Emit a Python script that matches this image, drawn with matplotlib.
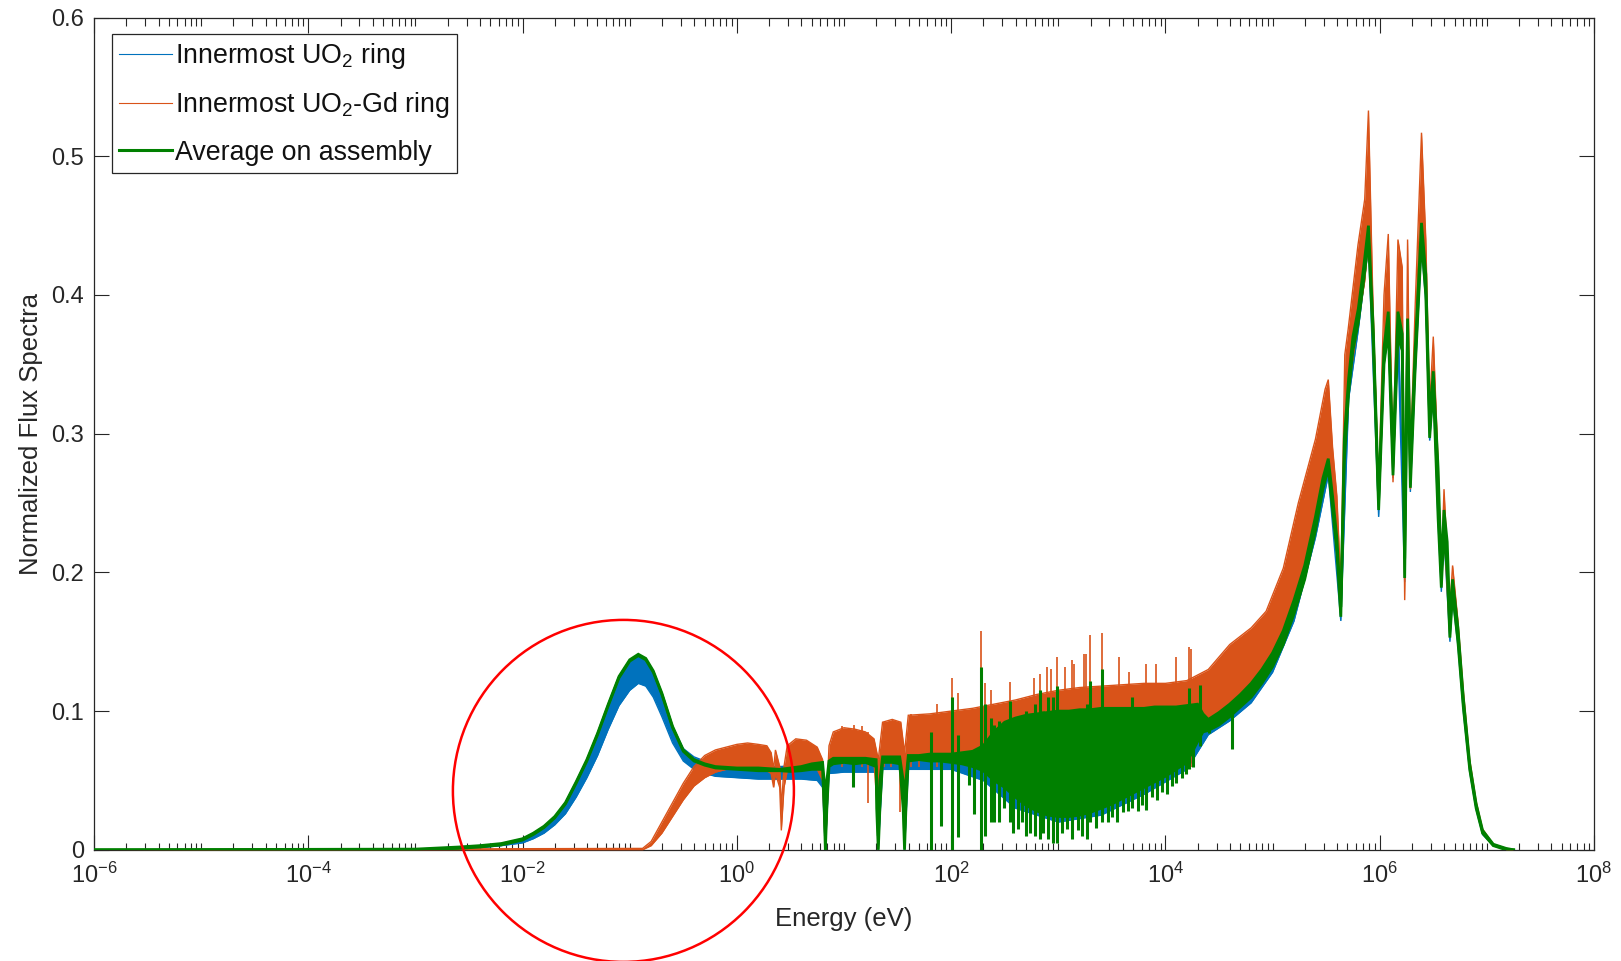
import numpy as np
import matplotlib
matplotlib.use("Agg")
import matplotlib.pyplot as plt
from matplotlib.ticker import FixedLocator, LogLocator, LogFormatterSciNotation, NullFormatter, FixedFormatter
from matplotlib.patches import Ellipse

plt.rcParams['font.family'] = ['Liberation Sans', 'DejaVu Sans']
plt.rcParams['mathtext.fontset'] = 'custom'
plt.rcParams['mathtext.rm'] = 'Liberation Sans'
plt.rcParams['mathtext.it'] = 'Liberation Sans:italic'
plt.rcParams['mathtext.bf'] = 'Liberation Sans:bold'

# ---------------- data (log10 of energy in eV, normalized flux) ----------------
labels = ["Innermost UO$_2$ ring", "Innermost UO$_2$-Gd ring", "Average on assembly"]
colors = ["#0072BD", "#D95319", "#008000"]

# Innermost UO2 ring (blue): band envelope
blue_logE = [-6.0, -3.0, -2.6, -2.4, -2.2, -2.0, -1.9, -1.8, -1.7, -1.6, -1.5, -1.4, -1.3, -1.2, -1.1,
             -1.0, -0.92, -0.85, -0.78, -0.7, -0.6, -0.5, -0.4, -0.3, -0.2, 0.0, 0.2, 0.4, 0.6, 0.75,
             0.8, 0.826, 0.86, 1.0, 1.3, 1.32, 1.36, 1.55, 1.565, 1.6, 2.0, 2.3, 2.6, 3.0, 3.4, 3.8,
             4.2, 4.4, 4.6, 4.8, 5.0, 5.2, 5.4, 5.52, 5.637, 5.71, 5.8, 5.895, 5.99, 6.04, 6.08, 6.124,
             6.17, 6.233, 6.26, 6.286, 6.33, 6.39, 6.43, 6.466, 6.5, 6.545, 6.575, 6.6, 6.655, 6.68,
             6.73, 6.78, 6.84, 6.9, 6.96, 7.06, 7.18, 7.25]
blue_lo = [0, 0, 0.0008, 0.0015, 0.003, 0.005, 0.008, 0.012, 0.018, 0.026, 0.038, 0.052, 0.068, 0.087, 0.104,
           0.115, 0.120, 0.118, 0.110, 0.096, 0.077, 0.064, 0.058, 0.055, 0.053, 0.052, 0.051, 0.051, 0.051, 0.050,
           0.045, 0.0, 0.055, 0.056, 0.056, 0.0, 0.058, 0.058, 0.0, 0.058, 0.058, 0.050, 0.030, 0.020, 0.025, 0.040,
           0.058, 0.083, 0.093, 0.106, 0.128, 0.165, 0.225, 0.270, 0.165, 0.325, 0.375, 0.435, 0.240, 0.350, 0.372, 0.268,
           0.365, 0.193, 0.362, 0.258, 0.340, 0.435, 0.395, 0.295, 0.330, 0.236, 0.186, 0.226, 0.150, 0.182,
           0.147, 0.100, 0.056, 0.029, 0.011, 0.003, 0.0, 0.0]
blue_hi = [0, 0.0005, 0.002, 0.003, 0.0045, 0.008, 0.012, 0.017, 0.024, 0.034, 0.049, 0.065, 0.084, 0.105, 0.125,
           0.137, 0.140, 0.137, 0.128, 0.113, 0.089, 0.073, 0.067, 0.064, 0.062, 0.061, 0.060, 0.060, 0.061, 0.061,
           0.058, 0.010, 0.062, 0.065, 0.065, 0.010, 0.066, 0.066, 0.010, 0.067, 0.068, 0.075, 0.095, 0.100, 0.100, 0.100,
           0.100, 0.094, 0.105, 0.120, 0.142, 0.180, 0.240, 0.290, 0.175, 0.345, 0.395, 0.465, 0.250, 0.362, 0.388, 0.285,
           0.388, 0.210, 0.383, 0.275, 0.360, 0.455, 0.415, 0.310, 0.345, 0.275, 0.200, 0.245, 0.165, 0.195,
           0.160, 0.110, 0.062, 0.033, 0.014, 0.004, 0.001, 0.0]

# Innermost UO2-Gd ring (orange): band envelope
orange_logE = [-6.0, -0.88, -0.8, -0.7, -0.6, -0.5, -0.4, -0.3, -0.2, -0.1, 0.0, 0.1, 0.2, 0.28, 0.32, 0.343,
               0.36, 0.40, 0.415, 0.44, 0.47, 0.55, 0.65, 0.75, 0.8, 0.826, 0.86, 0.9, 1.0, 1.1, 1.2, 1.28,
               1.32, 1.36, 1.45, 1.53, 1.565, 1.6, 1.8, 2.0, 2.2, 2.4, 2.6, 2.8, 3.0, 3.2, 3.4, 3.6, 3.8,
               4.0, 4.2, 4.4, 4.6, 4.8, 4.94, 5.1, 5.24, 5.4, 5.49, 5.52, 5.56, 5.6, 5.637, 5.674, 5.705,
               5.797, 5.86, 5.895, 5.935, 5.99, 6.04, 6.08, 6.124, 6.17, 6.21, 6.233, 6.26, 6.286, 6.33,
               6.39, 6.43, 6.466, 6.5, 6.545, 6.575, 6.6, 6.655, 6.68, 6.73, 6.78, 6.84, 6.9, 6.96, 7.06,
               7.18, 7.25]
orange_lo = [0, 0, 0.003, 0.012, 0.024, 0.036, 0.046, 0.052, 0.056, 0.058, 0.058, 0.058, 0.057, 0.057, 0.055, 0.045,
             0.055, 0.045, 0.014, 0.045, 0.057, 0.058, 0.058, 0.058, 0.050, 0.0, 0.060, 0.063, 0.065, 0.065, 0.065, 0.063,
             0.020, 0.065, 0.066, 0.065, 0.010, 0.066, 0.068, 0.070, 0.070, 0.070, 0.070, 0.070, 0.070, 0.070, 0.070, 0.070, 0.070,
             0.070, 0.080, 0.090, 0.100, 0.110, 0.125, 0.150, 0.190, 0.235, 0.270, 0.280, 0.250, 0.220, 0.170, 0.290, 0.330,
             0.380, 0.410, 0.440, 0.370, 0.245, 0.350, 0.380, 0.265, 0.370, 0.360, 0.180, 0.370, 0.260, 0.350,
             0.440, 0.400, 0.300, 0.335, 0.240, 0.190, 0.230, 0.153, 0.185, 0.150, 0.103, 0.058, 0.030, 0.012, 0.003,
             0.0, 0.0]
orange_hi = [0, 0.001, 0.006, 0.020, 0.034, 0.048, 0.060, 0.068, 0.072, 0.074, 0.076, 0.077, 0.076, 0.075, 0.070, 0.058,
             0.072, 0.060, 0.030, 0.060, 0.075, 0.080, 0.079, 0.074, 0.065, 0.010, 0.075, 0.085, 0.088, 0.087, 0.085, 0.080,
             0.065, 0.092, 0.094, 0.092, 0.070, 0.097, 0.098, 0.100, 0.102, 0.105, 0.108, 0.112, 0.115, 0.117, 0.118, 0.119, 0.120,
             0.120, 0.122, 0.130, 0.148, 0.160, 0.172, 0.203, 0.250, 0.296, 0.332, 0.339, 0.290, 0.255, 0.190, 0.357, 0.375,
             0.436, 0.469, 0.533, 0.400, 0.260, 0.400, 0.444, 0.280, 0.440, 0.420, 0.200, 0.440, 0.280, 0.390,
             0.517, 0.440, 0.320, 0.370, 0.279, 0.200, 0.260, 0.175, 0.205, 0.165, 0.115, 0.065, 0.035, 0.015, 0.004,
             0.001, 0.0]

# Average on assembly (green): band envelope (dense core)
green_logE = [-6.0, -3.0, -2.6, -2.4, -2.2, -2.0, -1.9, -1.8, -1.7, -1.6, -1.5, -1.4, -1.3, -1.2, -1.1, -1.0,
              -0.92, -0.85, -0.78, -0.7, -0.6, -0.5, -0.4, -0.3, -0.2, 0.0, 0.2, 0.4, 0.5, 0.6, 0.7, 0.8,
              0.815, 0.826, 0.84, 0.86, 0.9, 1.0, 1.1, 1.2, 1.3, 1.305, 1.32, 1.335, 1.36, 1.45, 1.52, 1.552,
              1.565, 1.578, 1.6, 1.7, 1.8, 1.9, 2.0, 2.1, 2.2, 2.3, 2.4, 2.5, 2.6, 2.7, 2.8, 2.9, 3.0, 3.1,
              3.2, 3.3, 3.4, 3.5, 3.6, 3.7, 3.8, 3.9, 4.0, 4.1, 4.2, 4.3, 4.35, 4.4, 4.5, 4.6, 4.7, 4.8, 4.9,
              5.0, 5.1, 5.2, 5.3, 5.4, 5.47, 5.52, 5.56, 5.6, 5.637, 5.67, 5.71, 5.75, 5.8, 5.85, 5.895, 5.94,
              5.99, 6.04, 6.08, 6.124, 6.17, 6.21, 6.233, 6.26, 6.286, 6.33, 6.39, 6.43, 6.466, 6.5, 6.545,
              6.575, 6.6, 6.63, 6.655, 6.68, 6.73, 6.78, 6.84, 6.9, 6.96, 7.06, 7.18, 7.25]
green_lo = [0, 0, 0.001, 0.002, 0.0035, 0.007, 0.011, 0.016, 0.023, 0.033, 0.048, 0.064, 0.083, 0.104, 0.124, 0.136,
            0.140, 0.137, 0.128, 0.112, 0.088, 0.071, 0.064, 0.061, 0.059, 0.058, 0.057, 0.057, 0.0565, 0.057, 0.058, 0.058,
            0.030, 0.0, 0.030, 0.060, 0.062, 0.063, 0.062, 0.063, 0.060, 0.030, 0.0, 0.030, 0.063, 0.063, 0.062, 0.030,
            0.0, 0.030, 0.064, 0.065, 0.064, 0.064, 0.063, 0.062, 0.060, 0.057, 0.050, 0.045, 0.038, 0.032, 0.028, 0.025, 0.024, 0.024,
            0.025, 0.027, 0.030, 0.033, 0.037, 0.041, 0.045, 0.049, 0.053, 0.058, 0.063, 0.078, 0.085, 0.086, 0.090, 0.096, 0.103, 0.110, 0.120,
            0.132, 0.148, 0.170, 0.195, 0.230, 0.260, 0.275, 0.245, 0.215, 0.168, 0.280, 0.330, 0.360, 0.380, 0.410, 0.440, 0.365,
            0.245, 0.350, 0.375, 0.270, 0.370, 0.360, 0.196, 0.365, 0.261, 0.345, 0.440, 0.400, 0.297, 0.335, 0.239,
            0.189, 0.230, 0.200, 0.153, 0.185, 0.150, 0.103, 0.058, 0.030, 0.012, 0.003, 0.0, 0.0]
green_hi = [0, 0.0005, 0.002, 0.003, 0.0045, 0.008, 0.012, 0.017, 0.024, 0.034, 0.049, 0.065, 0.084, 0.105, 0.125, 0.137,
            0.141, 0.138, 0.129, 0.113, 0.089, 0.072, 0.065, 0.062, 0.060, 0.059, 0.059, 0.058, 0.059, 0.060, 0.062, 0.063,
            0.050, 0.010, 0.050, 0.064, 0.066, 0.066, 0.066, 0.066, 0.065, 0.050, 0.010, 0.050, 0.067, 0.067, 0.067, 0.050,
            0.010, 0.050, 0.068, 0.068, 0.069, 0.069, 0.069, 0.070, 0.071, 0.075, 0.085, 0.092, 0.095, 0.097, 0.098, 0.099, 0.100, 0.100,
            0.101, 0.101, 0.102, 0.102, 0.102, 0.102, 0.102, 0.103, 0.103, 0.103, 0.104, 0.105, 0.098, 0.094, 0.099, 0.105, 0.112, 0.120, 0.130,
            0.142, 0.158, 0.180, 0.205, 0.240, 0.268, 0.282, 0.255, 0.225, 0.175, 0.297, 0.340, 0.370, 0.390, 0.420, 0.450, 0.375,
            0.252, 0.362, 0.388, 0.285, 0.388, 0.372, 0.210, 0.383, 0.275, 0.360, 0.452, 0.415, 0.310, 0.345, 0.275,
            0.200, 0.245, 0.222, 0.165, 0.195, 0.160, 0.110, 0.062, 0.033, 0.014, 0.004, 0.001, 0.0]

# Resonance dips / spikes: (log10 E, bottom, top)
green_streak_logE = [1.08, 1.814, 1.908, 2.005, 2.063, 2.165, 2.218, 2.28, 2.318, 2.374, 2.40, 2.45, 2.49, 2.545,
                     2.58, 2.62, 2.66, 2.70, 2.74, 2.78, 2.825, 2.86, 2.90, 2.95, 2.99, 3.03, 3.08, 3.13, 3.18,
                     3.22, 3.27, 3.30, 3.35, 3.41, 3.46, 3.50, 3.55, 3.60, 3.65, 3.69, 3.74, 3.78, 3.82, 3.87,
                     3.92, 3.97, 4.01, 4.06, 4.10, 4.15, 4.19, 4.22, 4.26, 4.32, 4.41, 4.62]
green_streak_lo = [0.045, 0.0, 0.017, 0.0, 0.009, 0.047, 0.026, 0.0, 0.010, 0.020, 0.020, 0.020, 0.030, 0.020,
                   0.012, 0.015, 0.020, 0.010, 0.012, 0.010, 0.008, 0.012, 0.008, 0.005, 0.005, 0.012, 0.015, 0.008, 0.014,
                   0.010, 0.008, 0.020, 0.016, 0.020, 0.020, 0.024, 0.020, 0.027, 0.028, 0.030, 0.028, 0.032, 0.029, 0.038,
                   0.036, 0.042, 0.040, 0.046, 0.048, 0.052, 0.055, 0.058, 0.060, 0.075, 0.084, 0.073]
green_streak_hi = [0.065, 0.085, 0.065, 0.110, 0.083, 0.066, 0.066, 0.132, 0.105, 0.095, 0.090, 0.093, 0.090, 0.107,
                   0.095, 0.090, 0.095, 0.100, 0.095, 0.105, 0.115, 0.100, 0.110, 0.110, 0.118, 0.100, 0.100, 0.100, 0.100,
                   0.100, 0.105, 0.122, 0.100, 0.130, 0.100, 0.100, 0.100, 0.100, 0.100, 0.110, 0.100, 0.100, 0.100, 0.100,
                   0.100, 0.100, 0.100, 0.100, 0.100, 0.100, 0.100, 0.117, 0.100, 0.119, 0.094, 0.105]

orange_streak_logE = [0.985, 1.09, 1.17, 1.22, 1.37, 1.44, 1.52, 1.63, 1.70, 1.87, 2.005, 2.063, 2.28, 2.318,
                      2.374, 2.545, 2.77, 2.825, 2.89, 2.93, 2.99, 3.06, 3.13, 3.15, 3.24, 3.26, 3.30, 3.41,
                      3.57, 3.66, 3.82, 3.91, 4.10, 4.22, 4.24]
orange_streak_lo = [0.060, 0.060, 0.060, 0.034, 0.060, 0.060, 0.027, 0.060, 0.060, 0.060, 0.060, 0.060, 0.060, 0.060,
                    0.060, 0.060, 0.060, 0.060, 0.060, 0.060, 0.060, 0.060, 0.060, 0.060, 0.060, 0.060, 0.060, 0.060,
                    0.060, 0.060, 0.060, 0.060, 0.060, 0.060, 0.060]
orange_streak_hi = [0.089, 0.090, 0.089, 0.085, 0.092, 0.091, 0.090, 0.098, 0.097, 0.105, 0.124, 0.113, 0.158, 0.120,
                    0.115, 0.121, 0.124, 0.127, 0.132, 0.130, 0.139, 0.132, 0.137, 0.134, 0.141, 0.141, 0.155, 0.156,
                    0.139, 0.128, 0.134, 0.134, 0.139, 0.146, 0.145]

xtick_exps = [-6, -4, -2, 0, 2, 4, 6, 8]
yticks = [0, 0.1, 0.2, 0.3, 0.4, 0.5, 0.6]
ytick_labels = ["0", "0.1", "0.2", "0.3", "0.4", "0.5", "0.6"]

# ---------------- figure ----------------
W, H = 1621, 961
fig = plt.figure(figsize=(W / 100, H / 100), dpi=100)
ax_l, ax_r, ax_t, ax_b = 94, 1594, 17.6, 849.8
ax = fig.add_axes([ax_l / W, 1 - ax_b / H, (ax_r - ax_l) / W, (ax_b - ax_t) / H])

def draw_band(logE, lo, hi, color, lw, z):
    E = 10.0 ** np.asarray(logE)
    lo = np.asarray(lo); hi = np.asarray(hi)
    ax.fill_between(E, lo, hi, color=color, lw=0, zorder=z)
    ax.plot(E, lo, color=color, lw=lw, zorder=z, solid_joinstyle='miter')
    ax.plot(E, hi, color=color, lw=lw, zorder=z, solid_joinstyle='miter')

def draw_streaks(logE, lo, hi, color, lw, z):
    ax.vlines(10.0 ** np.asarray(logE), lo, hi, color=color, lw=lw, zorder=z)

draw_band(blue_logE, blue_lo, blue_hi, colors[0], 1.0, 2)
draw_band(orange_logE, orange_lo, orange_hi, colors[1], 1.0, 3)
draw_streaks(orange_streak_logE, orange_streak_lo, orange_streak_hi, colors[1], 1.2, 3)
draw_band(green_logE, green_lo, green_hi, colors[2], 2.0, 4)
draw_streaks(green_streak_logE, green_streak_lo, green_streak_hi, colors[2], 2.2, 4)

# legend proxies
for c, lab, lw in zip(colors, labels, [0.8, 0.8, 2.2]):
    ax.plot([], [], color=c, lw=lw, label=lab)

ax.set_xscale('log')
ax.set_xlim(1e-6, 1e8)
ax.set_ylim(0, 0.6)
ax.xaxis.set_major_locator(FixedLocator([10.0 ** e for e in xtick_exps]))
ax.xaxis.set_major_formatter(LogFormatterSciNotation())
ax.xaxis.set_minor_locator(LogLocator(base=10, subs=np.arange(1, 10), numticks=200))
ax.xaxis.set_minor_formatter(NullFormatter())
ax.yaxis.set_major_locator(FixedLocator(yticks))
ax.yaxis.set_major_formatter(FixedFormatter(ytick_labels))

axcol = '#262626'
for s in ax.spines.values():
    s.set_color(axcol)
    s.set_linewidth(0.9)
ax.tick_params(which='both', direction='in', top=True, right=True, color=axcol, labelcolor=axcol, width=0.8)
ax.tick_params(which='major', length=10.8, labelsize=17)
ax.tick_params(which='minor', length=5.4)
ax.tick_params(axis='x', which='major', pad=9)
ax.tick_params(axis='y', which='major', pad=7)

ax.set_xlabel('Energy (eV)', fontsize=18.5, color=axcol, labelpad=14)
ax.set_ylabel('Normalized Flux Spectra', fontsize=18.5, color=axcol, labelpad=6)

leg = ax.legend(loc='upper left', bbox_to_anchor=((111.6 - ax_l) / (ax_r - ax_l), 1 - (34 - ax_t) / (ax_b - ax_t)),
                borderaxespad=0, fontsize=19.3, frameon=True, fancybox=False, framealpha=1,
                edgecolor=axcol, handlelength=2.0, handletextpad=0.12, labelspacing=0.72,
                borderpad=0.26)
leg.get_frame().set_linewidth(0.9)
for t in leg.get_texts():
    t.set_color('#111111')

# red annotation circle (figure pixel coordinates)
circ = Ellipse(((623.4) / W, 1 - 790.9 / H), 341 / W, 342 / H, transform=fig.transFigure,
               fill=False, edgecolor='#FF0000', lw=1.8, zorder=10, clip_on=False)
fig.patches.append(circ)

fig.savefig('out.png', dpi=100)
